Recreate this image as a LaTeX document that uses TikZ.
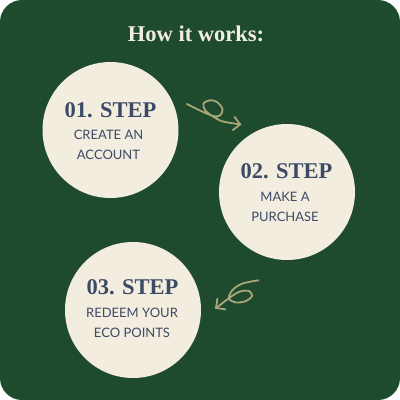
\documentclass[tikz,border=0pt]{standalone}
\usepackage{fontspec}
\setmainfont{Liberation Serif}
\newfontfamily\latofont{Lato}
\usetikzlibrary{arrows.meta}
\definecolor{bggreen}{HTML}{1E4A2D}
\definecolor{cream}{HTML}{F2EDDE}
\definecolor{slate}{HTML}{3D4A66}
\definecolor{khaki}{HTML}{A9A67A}
\tikzset{
  stepcircle/.style={circle, fill=cream, minimum size=136pt, inner sep=0pt},
  steptitle/.style={font=\fontsize{22.5}{24}\selectfont\bfseries, text=slate, inner sep=0pt},
  steptext/.style={font=\latofont\fontsize{13}{15}\selectfont, text=slate, inner sep=0pt},
  squiggle/.style={draw=khaki, line width=1.8pt, line cap=round, line join=round,
    -{Straight Barb[length=7pt,width=14pt,line width=1.8pt]}}
}
\begin{document}
\begin{tikzpicture}[x=1pt,y=-1pt]
\useasboundingbox (0,0) rectangle (400,400);
\fill[white] (0,0) rectangle (400,400);
\fill[bggreen, rounded corners=22pt] (0,0) rectangle (400,400);
\node[font=\fontsize{22.5}{24}\selectfont\bfseries, text=cream, inner sep=0pt] (title) at (196,34) {How it works:};
\node[stepcircle] (c1) at (110.5,130) {};
\node[stepcircle] (c2) at (287,192) {};
\node[stepcircle] (c3) at (133,310) {};
\node[steptitle] (t1) at (110.5,110) {01. STEP};
\node[steptext] (a1) at (108.5,135) {CREATE AN};
\node[steptext] (b1) at (108.5,155) {ACCOUNT};
\node[steptitle] (t2) at (286.5,171) {02. STEP};
\node[steptext] (a2) at (285,197) {MAKE A};
\node[steptext] (b2) at (285,217) {PURCHASE};
\node[steptitle] (t3) at (132.5,287) {03. STEP};
\node[steptext] (a3) at (132,313) {REDEEM YOUR};
\node[steptext] (b3) at (132,333) {ECO POINTS};
\draw[squiggle] plot[smooth, tension=0.55] coordinates {(187,104) (200,110.5) (213,116) (220,115.5) (222.5,109) (217,102) (210,100.3) (203.5,103.5) (205,110) (213,116.5) (223,121.5) (241.5,124.5)};
\draw[squiggle] plot[smooth, tension=0.55] coordinates {(258.5,280.3) (242,283.7) (232,290.5) (229,298.5) (236,302.5) (246,301) (252,296) (249,291) (240,291.5) (230.5,297) (222,303.5) (215,308.7)};
\end{tikzpicture}
\end{document}
